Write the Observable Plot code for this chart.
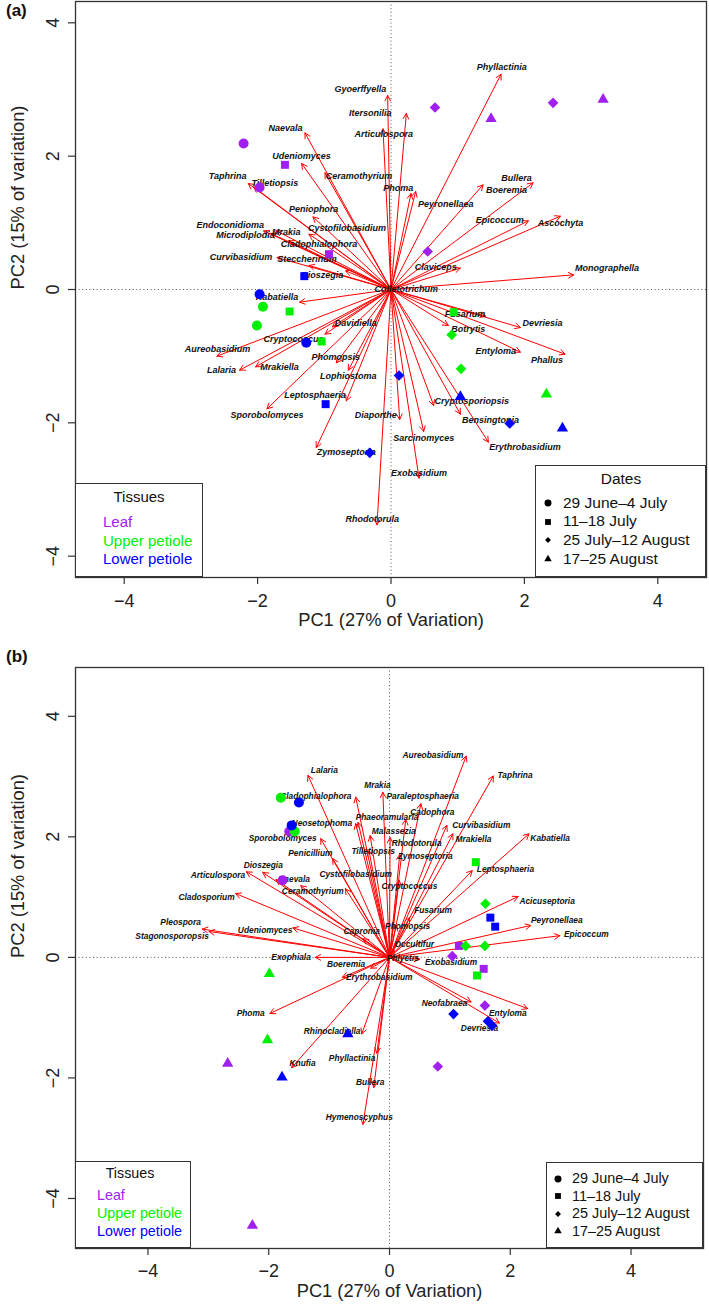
<!DOCTYPE html>
<html>
<head>
<meta charset="utf-8">
<script src="https://cdn.jsdelivr.net/npm/d3@7"></script>
<script src="https://cdn.jsdelivr.net/npm/@observablehq/plot@0.6"></script>
<style>
  html, body { margin: 0; padding: 0; background: #fff; }
  #wrap { position: relative; width: 709px; height: 1306px; font-family: "Liberation Sans", Arial, sans-serif; color: #111; overflow: hidden; }
  .abs { position: absolute; white-space: nowrap; }
  .box { position: absolute; border: 1.3px solid #333; background: #fff; box-sizing: border-box; }
</style>
</head>
<body>
<div id="wrap"></div>
<script>
// ---------------- data ----------------
const tissues = ["Leaf", "Upper petiole", "Lower petiole"];
const tissueColors = ["#A020F0", "#00F000", "#0000FF"];
const dates = ["29 June\u20134 July", "11\u201318 July", "25 July\u201312 August", "17\u201325 August"];
const axisTicks = [-4, -2, 0, 2, 4];
const xTitle = "PC1 (27% of Variation)";
const yTitle = "PC2 (15% of variation)";

// samples: [tissue index, date index, PC1, PC2]
const samplesA = [
  [0, 0, -2.21, 2.19], [0, 1, -1.59, 1.87], [0, 0, -1.97, 1.53], [0, 2, 0.66, 2.73], [0, 3, 1.50, 2.56],
  [0, 2, 2.43, 2.80], [0, 3, 3.18, 2.85], [0, 1, -0.93, 0.53], [0, 2, 0.55, 0.57],
  [1, 0, -1.92, -0.26], [1, 1, -1.52, -0.33], [1, 0, -2.01, -0.54], [1, 1, -1.04, -0.78], [1, 1, 0.94, -0.34],
  [1, 2, 0.91, -0.68], [1, 2, 1.05, -1.19], [1, 3, 2.33, -1.57],
  [2, 1, -1.30, 0.20], [2, 0, -1.97, -0.07], [2, 0, -1.27, -0.80], [2, 2, 0.12, -1.29], [2, 1, -0.98, -1.72],
  [2, 2, -0.32, -2.45], [2, 3, 1.04, -1.61], [2, 2, 1.78, -2.01], [2, 3, 2.57, -2.08]
];

// loadings: [genus, arrow tip PC1, arrow tip PC2, label PC1, label PC2]
const loadingsA = [
  ["Gyoerffyella", -0.05, 2.91, -0.46, 3.01], ["Itersonilia", 0.23, 2.64, -0.31, 2.64],
  ["Articulospora", -0.12, 2.41, -0.11, 2.33], ["Phyllactinia", 1.65, 3.23, 1.66, 3.34],
  ["Naevala", -1.29, 2.35, -1.58, 2.42], ["Udeniomyces", -1.34, 1.89, -1.34, 2.00],
  ["Ceramothyrium", -0.99, 1.75, -0.48, 1.70], ["Taphrina", -2.14, 1.59, -2.45, 1.70],
  ["Tilletiopsis", -2.06, 1.54, -1.74, 1.60], ["Phoma", 0.30, 1.44, 0.11, 1.52],
  ["Peyronellaea", 0.37, 1.47, 0.82, 1.28], ["Bullera", 2.13, 1.60, 1.88, 1.67],
  ["Boeremia", 1.38, 1.57, 1.73, 1.49], ["Epicoccum", 2.06, 1.03, 1.63, 1.04],
  ["Ascochyta", 2.54, 1.10, 2.54, 1.00], ["Peniophora", -1.17, 1.09, -1.16, 1.20],
  ["Cystofilobasidium", -1.23, 0.83, -0.66, 0.92], ["Endoconidioma", -1.91, 0.88, -2.41, 0.96],
  ["Microdiplodia", -1.80, 0.84, -2.18, 0.81], ["Mrakia", -1.72, 0.88, -1.57, 0.86],
  ["Cladophialophora", -1.53, 0.73, -1.08, 0.68], ["Curvibasidium", -1.71, 0.48, -2.25, 0.48],
  ["Steccherinum", -1.23, 0.36, -1.26, 0.45], ["Dioszegia", -0.68, 0.28, -1.03, 0.22],
  ["Claviceps", 1.04, 0.32, 0.67, 0.33], ["Monographella", 2.74, 0.22, 3.24, 0.32],
  ["Colletotrichum", 0.05, 0.02, 0.23, 0.00], ["Kabatiella", -1.37, -0.19, -1.71, -0.12],
  ["Fusarium", 1.42, -0.40, 1.11, -0.37], ["Devriesia", 1.94, -0.57, 2.27, -0.51],
  ["Botrytis", 0.86, -0.54, 1.16, -0.60], ["Entyloma", 1.94, -0.94, 1.57, -0.93],
  ["Phallus", 2.61, -0.97, 2.34, -1.06], ["Davidiella", -0.88, -0.56, -0.53, -0.50],
  ["Cryptococcus", -0.99, -0.67, -1.46, -0.75], ["Aureobasidium", -2.61, -1.00, -2.60, -0.90],
  ["Phomopsis", -0.82, -1.10, -0.83, -1.01], ["Lalaria", -2.27, -1.21, -2.54, -1.21],
  ["Mrakiella", -2.03, -1.16, -1.67, -1.16], ["Lophiostoma", -0.64, -1.21, -0.64, -1.30],
  ["Leptosphaeria", -0.67, -1.67, -1.14, -1.59], ["Sporobolomyces", -1.86, -1.79, -1.86, -1.88],
  ["Diaporthe", 0.13, -1.95, -0.23, -1.88], ["Zymoseptoria", -1.12, -2.37, -0.67, -2.44],
  ["Rhodotorula", -0.21, -3.53, -0.28, -3.45], ["Sarcinomyces", 0.49, -2.13, 0.49, -2.23],
  ["Exobasidium", 0.42, -2.83, 0.42, -2.75], ["Cryptosporiopsis", 0.64, -1.74, 1.21, -1.67],
  ["Bensingtonia", 1.04, -1.87, 1.49, -1.96], ["Erythrobasidium", 1.46, -2.29, 2.01, -2.37]
];

const samplesB = [
  [0, 0, -1.66, 2.09], [0, 0, -1.77, 1.28], [0, 3, -2.68, -1.76], [0, 3, -2.27, -4.45], [0, 1, 1.15, 0.19],
  [0, 2, 1.04, 0.02], [0, 1, 1.56, -0.19], [0, 2, 1.58, -0.80], [0, 2, 0.80, -1.81],
  [1, 0, -1.80, 2.65], [1, 0, -1.57, 2.09], [1, 3, -1.99, -0.27], [1, 3, -2.02, -1.37], [1, 1, 1.43, 1.58],
  [1, 2, 1.59, 0.89], [1, 2, 1.26, 0.19], [1, 2, 1.58, 0.19], [1, 1, 1.45, -0.30],
  [2, 0, -1.50, 2.57], [2, 0, -1.62, 2.19], [2, 3, -0.69, -1.27], [2, 3, -1.78, -1.99], [2, 1, 1.67, 0.66],
  [2, 1, 1.75, 0.51], [2, 2, 1.06, -0.94], [2, 2, 1.63, -1.06], [2, 2, 1.70, -1.13]
];

const loadingsB = [
  ["Lalaria", -1.35, 3.02, -1.08, 3.11], ["Cladophialophora", -0.56, 2.66, -1.22, 2.67],
  ["Mrakia", -0.11, 2.74, -0.20, 2.86], ["Paraleptosphaeria", 0.52, 2.55, 0.55, 2.67],
  ["Neosetophoma", -0.56, 2.22, -1.12, 2.22], ["Phaeoramularia", -0.52, 2.24, -0.04, 2.32],
  ["Cadophora", 0.27, 2.29, 0.71, 2.40], ["Malassezia", -0.32, 2.02, 0.07, 2.10],
  ["Sporobolomyces", -1.14, 1.97, -1.77, 1.98], ["Rhodotorula", 0.01, 1.99, 0.45, 1.90],
  ["Aureobasidium", 1.27, 3.34, 0.72, 3.35], ["Taphrina", 1.72, 3.01, 2.08, 3.02],
  ["Curvibasidium", 0.95, 2.19, 1.52, 2.19], ["Mrakiella", 1.05, 2.05, 1.39, 1.96],
  ["Kabatiella", 2.31, 2.05, 2.66, 1.97], ["Penicillium", -0.94, 1.64, -1.31, 1.73],
  ["Tilletiopsis", -0.34, 1.77, -0.27, 1.76], ["Zymoseptoria", 0.17, 1.71, 0.59, 1.67],
  ["Dioszegia", -2.10, 1.41, -2.09, 1.53], ["Articulospora", -2.37, 1.42, -2.84, 1.36],
  ["Naevala", -1.88, 1.29, -1.58, 1.29], ["Cystofilobasidium", -0.73, 1.14, -0.56, 1.38],
  ["Ceramothyrium", -1.47, 1.19, -1.27, 1.09], ["Cryptococcus", 0.16, 1.28, 0.33, 1.18],
  ["Cladosporium", -2.55, 1.06, -3.03, 1.00], ["Pleospora", -3.10, 0.47, -3.46, 0.58],
  ["Stagonosporopsis", -2.99, 0.43, -3.60, 0.35], ["Udeniomyces", -1.60, 0.49, -2.06, 0.45],
  ["Capronia", -0.44, 0.31, -0.46, 0.44], ["Exophiala", -1.23, 0.00, -1.63, 0.00],
  ["Boeremia", -0.31, -0.18, -0.72, -0.12], ["Erythrobasidium", -0.78, -0.33, -0.17, -0.33],
  ["Phoma", -1.98, -0.93, -2.30, -0.93], ["Rhinocladiella", -0.46, -1.27, -0.95, -1.23],
  ["Fusarium", 0.33, 0.66, 0.72, 0.78], ["Phomopsis", 0.11, 0.53, 0.30, 0.51],
  ["Leptosphaeria", 1.37, 1.44, 1.92, 1.46], ["Acicuseptoria", 2.13, 1.01, 2.61, 0.93],
  ["Peyronellaea", 2.34, 0.53, 2.77, 0.62], ["Epicoccum", 2.82, 0.36, 3.26, 0.38],
  ["Occultifur", 0.08, 0.11, 0.41, 0.21], ["Phlyctis", 0.10, 0.00, 0.22, -0.02],
  ["Exobasidium", 0.50, -0.03, 1.02, -0.08], ["Neofabraea", 1.35, -0.74, 0.91, -0.76],
  ["Entyloma", 2.29, -0.85, 1.96, -0.93], ["Devriesia", 1.82, -1.09, 1.49, -1.17],
  ["Knufia", -1.62, -1.83, -1.44, -1.75], ["Phyllactinia", -0.21, -1.59, -0.62, -1.67],
  ["Bullera", -0.26, -2.16, -0.32, -2.07], ["Hymenoscyphus", -0.44, -2.77, -0.50, -2.66]
];

// ---------------- drawing ----------------
const FONT = '"Liberation Sans", Arial, Helvetica, sans-serif';
const symbolNames = ["circle", "square", "diamond2", "triangle"];
const symbolR = [5, 4.5, 4.8, 4.2];
const fmt = d => (d < 0 ? "\u2212" : "") + Math.abs(d);

function panel(cfg) {
  const samples = cfg.samples.map(([t, d, x, y]) => ({tissue: tissues[t], di: d, x, y}));
  const loads = cfg.loadings.map(([name, tx, ty, lx, ly]) => ({name, tx, ty, lx, ly}));
  const dots = symbolNames.map((sym, i) =>
    Plot.dot(samples.filter(s => s.di === i), {x: "x", y: "y", fill: "tissue", symbol: sym, r: symbolR[i]}));
  return Plot.plot({
    width: 709, height: cfg.height,
    marginLeft: 75, marginRight: cfg.mr, marginTop: cfg.mt, marginBottom: cfg.mb,
    style: {fontFamily: FONT, background: "transparent", overflow: "visible", color: "#222"},
    x: {domain: cfg.xd},
    y: {domain: cfg.yd},
    color: {domain: tissues, range: tissueColors},
    marks: [
      Plot.ruleX([0], {stroke: "#555", strokeWidth: 1, strokeDasharray: "1,2.6"}),
      Plot.ruleY([0], {stroke: "#555", strokeWidth: 1, strokeDasharray: "1,2.6"}),
      Plot.arrow(loads, {x1: () => 0, y1: () => 0, x2: "tx", y2: "ty", stroke: "#FF0000", strokeWidth: 1, headLength: 9, headAngle: 55}),
      Plot.text(loads, {x: "lx", y: "ly", text: "name", fontStyle: "italic", fontWeight: "bold", fontSize: cfg.labelSize, fill: "#111"}),
      ...dots,
      Plot.frame({stroke: "#333", strokeWidth: 1.3}),
      Plot.axisX({ticks: axisTicks, tickFormat: fmt, tickSize: 7, tickPadding: cfg.xPad, fontSize: 18, label: null, stroke: "#333", strokeWidth: 1.2}),
      Plot.axisY({ticks: axisTicks, tickFormat: fmt, tickSize: 7, tickPadding: 10, tickRotate: -90, fontSize: 18, label: null, stroke: "#333", strokeWidth: 1.2}),
      Plot.text([xTitle], {frameAnchor: "bottom", dy: cfg.xTitleDy, fontSize: 18.3, fill: "#222"}),
      Plot.text([yTitle], {frameAnchor: "left", dx: -57, rotate: -90, fontSize: 18.3, fill: "#222"})
    ]
  });
}

const wrap = document.getElementById("wrap");

function place(svg, top) {
  const d = document.createElement("div");
  d.style.position = "absolute"; d.style.left = "0px"; d.style.top = top + "px";
  d.appendChild(svg);
  wrap.appendChild(d);
}

function text(str, x, y, opts = {}) {
  const s = document.createElement("div");
  s.className = "abs";
  const fs = opts.size || 15;
  s.style.fontSize = fs + "px";
  s.style.lineHeight = (fs * 1.2) + "px";
  s.style.top = (y - fs * 0.6) + "px";
  s.style.left = x + "px";
  if (opts.center) s.style.transform = "translateX(-50%)";
  if (opts.color) s.style.color = opts.color;
  if (opts.bold) s.style.fontWeight = "bold";
  s.textContent = str;
  wrap.appendChild(s);
}

function box(l, t, r, b) {
  const d = document.createElement("div");
  d.className = "box";
  d.style.left = l + "px"; d.style.top = t + "px";
  d.style.width = (r - l) + "px"; d.style.height = (b - t) + "px";
  wrap.appendChild(d);
}

const legendSym = [d3.symbolCircle, d3.symbolSquare, d3.symbolDiamond2, d3.symbolTriangle];
const legendSize = [38, 34, 22, 24];
function sym(i, cx, cy) {
  const ns = "http://www.w3.org/2000/svg";
  const svg = document.createElementNS(ns, "svg");
  svg.setAttribute("width", 14); svg.setAttribute("height", 14);
  svg.style.position = "absolute"; svg.style.left = (cx - 7) + "px"; svg.style.top = (cy - 7) + "px";
  const p = document.createElementNS(ns, "path");
  p.setAttribute("d", d3.symbol(legendSym[i], legendSize[i])());
  p.setAttribute("transform", "translate(7,7)");
  p.setAttribute("fill", "#000");
  svg.appendChild(p);
  wrap.appendChild(svg);
}

// Panel (a)
place(panel({
  height: 650, mt: 1, mb: 73, mr: 3,
  xd: [-4.73, 4.73], yd: [-4.32, 4.32],
  samples: samplesA, loadings: loadingsA, labelSize: 9, xPad: 9.5, xTitleDy: 48
}), 0);

// Panel (b)
place(panel({
  height: 656, mt: 17, mb: 58, mr: 6,
  xd: [-5.20, 5.20], yd: [-4.83, 4.81],
  samples: samplesB, loadings: loadingsB, labelSize: 8.4, xPad: 9, xTitleDy: 48.5
}), 650);

text("(a)", 6, 11, {size: 17, bold: true});
text("(b)", 6, 657, {size: 17, bold: true});

// Legends panel (a)
box(75, 483, 203, 577);
text("Tissues", 139, 497, {size: 15, center: true});
tissues.forEach((t, i) => text(t, 103, 522 + i * 18.7, {size: 15, color: tissueColors[i]}));
box(535, 465, 706, 577);
text("Dates", 621, 479, {size: 15.5, center: true});
dates.forEach((d, i) => { sym(i, 548, 503 + i * 18.7); text(d, 563, 503 + i * 18.7, {size: 15.5}); });

// Legends panel (b)
box(75, 1161, 191, 1248);
text("Tissues", 130, 1174, {size: 14.3, center: true});
tissues.forEach((t, i) => text(t, 97, 1196 + i * 18, {size: 14.3, color: tissueColors[i]}));
box(546, 1162, 703, 1248);
dates.forEach((d, i) => { sym(i, 558, 1179 + i * 17.4); text(d, 572, 1179 + i * 17.4, {size: 14.4}); });
</script>
</body>
</html>
